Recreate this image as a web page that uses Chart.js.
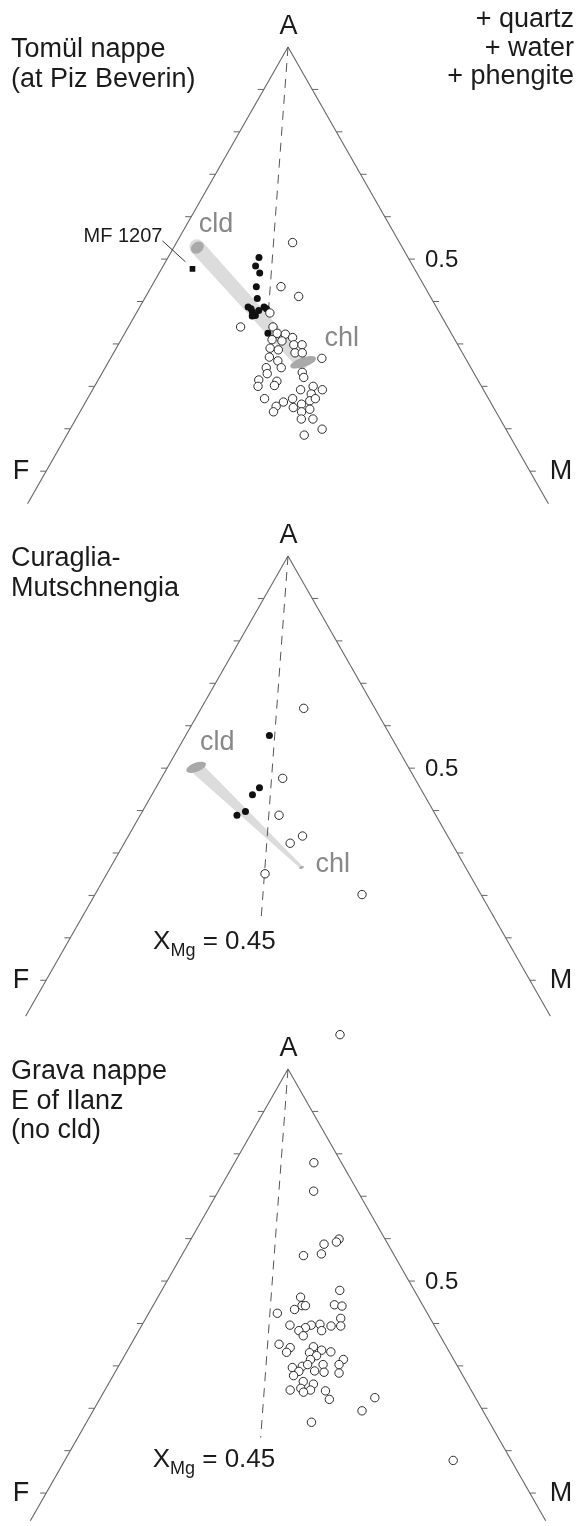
<!DOCTYPE html>
<html>
<head>
<meta charset="utf-8">
<title>AFM projections</title>
<script src="https://cdn.jsdelivr.net/npm/chart.js@4.4.1/dist/chart.umd.min.js"></script>
<style>
    html, body { margin: 0; padding: 0; background: #ffffff; overflow: hidden; }
    canvas { position: absolute; left: 0; display: block; }
</style>
</head>
<body>
<canvas id="TomulChart" width="577" height="509" style="top:0px"></canvas>
<canvas id="CuragliaChart" width="577" height="513" style="top:509px"></canvas>
<canvas id="GravaChart" width="577" height="504" style="top:1022px"></canvas>
<script>
// AFM values: A and M fractions (F = 1 - A - M)
var TomulOpenA = [0.539, 0.435, 0.412, 0.340, 0.373, 0.340, 0.325, 0.323, 0.315, 0.310, 0.307, 0.298, 0.298, 0.290, 0.286, 0.279, 0.279, 0.269, 0.260, 0.266, 0.244, 0.244, 0.233, 0.221, 0.230, 0.215, 0.212, 0.200, 0.202, 0.192, 0.200, 0.192, 0.182, 0.171, 0.163, 0.171, 0.153, 0.158, 0.166, 0.171, 0.140, 0.150, 0.140, 0.146, 0.123, 0.123, 0.099, 0.085]
var TomulOpenM = [0.240, 0.268, 0.316, 0.232, 0.276, 0.299, 0.315, 0.333, 0.352, 0.312, 0.334, 0.363, 0.380, 0.318, 0.337, 0.375, 0.390, 0.327, 0.349, 0.437, 0.364, 0.333, 0.413, 0.422, 0.342, 0.332, 0.371, 0.338, 0.371, 0.430, 0.452, 0.475, 0.457, 0.366, 0.409, 0.424, 0.399, 0.449, 0.462, 0.471, 0.400, 0.436, 0.458, 0.472, 0.466, 0.490, 0.521, 0.491]
var TomulFilledA = [0.504, 0.484, 0.467, 0.435, 0.407, 0.387, 0.375, 0.367, 0.379, 0.387, 0.383, 0.383, 0.366, 0.325]
var TomulFilledM = [0.188, 0.191, 0.208, 0.217, 0.233, 0.224, 0.239, 0.249, 0.250, 0.257, 0.264, 0.232, 0.243, 0.296]
var TomulSquareA = [0.477]
var TomulSquareM = [0.064]
var TomulBandA = [0.529, 0.256] // cld end, chl end
var TomulBandM = [0.047, 0.400]
var TomulLineA = [1, 0.38]

var CuragliaOpenA = [0.641, 0.476, 0.389, 0.340, 0.323, 0.251, 0.202]
var CuragliaOpenM = [0.212, 0.251, 0.287, 0.360, 0.343, 0.327, 0.552]
var CuragliaFilledA = [0.577, 0.454, 0.437, 0.398, 0.389]
var CuragliaFilledM = [0.173, 0.214, 0.208, 0.213, 0.200]
var CuragliaBandA = [0.502, 0.266]
var CuragliaBandM = [0.059, 0.395]
var CuragliaLineA = [1, 0.144]

var GravaOpenA = [1.081, 0.779, 0.712, 0.599, 0.592, 0.587, 0.564, 0.560, 0.478, 0.462, 0.442, 0.442, 0.433, 0.444, 0.441, 0.424, 0.412, 0.396, 0.396, 0.398, 0.394, 0.394, 0.390, 0.383, 0.383, 0.371, 0.351, 0.343, 0.332, 0.345, 0.337, 0.333, 0.331, 0.324, 0.315, 0.315, 0.303, 0.296, 0.299, 0.303, 0.303, 0.287, 0.288, 0.285, 0.283, 0.277, 0.263, 0.257, 0.243, 0.247, 0.243, 0.238, 0.241, 0.221, 0.225, 0.194, 0.167, 0.077]
var GravaOpenM = [0.067, 0.164, 0.197, 0.306, 0.304, 0.281, 0.287, 0.252, 0.368, 0.295, 0.308, 0.315, 0.297, 0.374, 0.391, 0.266, 0.403, 0.306, 0.350, 0.367, 0.392, 0.412, 0.341, 0.331, 0.378, 0.346, 0.306, 0.333, 0.331, 0.380, 0.401, 0.422, 0.379, 0.397, 0.389, 0.457, 0.454, 0.361, 0.380, 0.389, 0.421, 0.379, 0.411, 0.432, 0.464, 0.373, 0.400, 0.424, 0.383, 0.403, 0.425, 0.413, 0.457, 0.475, 0.567, 0.556, 0.465, 0.803]
var GravaLineA = [1, 0.131]

var XMgLine = 0.435
var ATicks = [0, 0.1, 0.2, 0.3, 0.4, 0.5, 0.6, 0.7, 0.8, 0.9]
var ATickLabel = 0.5
var EdgeBottomA = -0.085

// pixel frame of the triangle inside every panel
var FrameLeft = 41.7, FrameSide = 492.6, FrameBase = 475.7, FrameHeight = 433
var TextFont = '"Liberation Sans", Arial, Helvetica, sans-serif'
var TextColor = '#1b1b1b'
var EdgeColor = '#666666'

var PanelInfo = {
    TomulChart: {
        title: ['Tomül nappe', '(at Piz Beverin)'],
        notes: ['+ quartz', '+ water', '+ phengite'],
        openA: TomulOpenA, openM: TomulOpenM,
        filledA: TomulFilledA, filledM: TomulFilledM,
        squareA: TomulSquareA, squareM: TomulSquareM, squareLabel: 'MF 1207',
        bandA: TomulBandA, bandM: TomulBandM,
        band: { w0: 15, w1: 13, round: true, cap0: [0.5, 0.8, 7, 5.5, -0.7], cap1: [1.6, -0.3, 13.5, 4.8, -0.33], cld: [2, -15], chl: [23, -17] },
        lineA: TomulLineA,
        xmgLabel: null
    },
    CuragliaChart: {
        title: ['Curaglia-', 'Mutschnengia'],
        notes: [],
        openA: CuragliaOpenA, openM: CuragliaOpenM,
        filledA: CuragliaFilledA, filledM: CuragliaFilledM,
        bandA: CuragliaBandA, bandM: CuragliaBandM,
        band: { w0: 13, w1: 3, round: false, cap0: [0, 0, 10.5, 4.5, -0.37], cap1: [0, 0, 2.5, 1.3, -0.3], cld: [4, -17], chl: [14, 4.5] },
        lineA: CuragliaLineA,
        xmgLabel: [-108, 30]
    },
    GravaChart: {
        title: ['Grava nappe', 'E of Ilanz', '(no cld)'],
        notes: [],
        openA: GravaOpenA, openM: GravaOpenM,
        lineA: GravaLineA,
        xmgLabel: [-108, 29]
    }
}

function toPoints(aList, mList) {
    var pts = []
    for (var i = 0; i < aList.length; i++)
        pts.push({ x: mList[i] + aList[i] / 2, y: aList[i] })
    return pts
}

function pix(chart, a, m) {
    return { x: chart.scales.x.getPixelForValue(m + a / 2), y: chart.scales.y.getPixelForValue(a) }
}

function drawBand(ctx, b0, b1, st) {
    var dx = b1.x - b0.x, dy = b1.y - b0.y
    var len = Math.sqrt(dx * dx + dy * dy)
    var nx = -dy / len, ny = dx / len
    ctx.save()
    ctx.fillStyle = '#dcdcdc'
    ctx.beginPath()
    ctx.moveTo(b0.x + nx * st.w0 / 2, b0.y + ny * st.w0 / 2)
    ctx.lineTo(b1.x + nx * st.w1 / 2, b1.y + ny * st.w1 / 2)
    ctx.lineTo(b1.x - nx * st.w1 / 2, b1.y - ny * st.w1 / 2)
    ctx.lineTo(b0.x - nx * st.w0 / 2, b0.y - ny * st.w0 / 2)
    ctx.closePath()
    ctx.fill()
    if (st.round) {
        ctx.beginPath(); ctx.arc(b0.x, b0.y, st.w0 / 2, 0, 2 * Math.PI); ctx.fill()
        ctx.beginPath(); ctx.arc(b1.x, b1.y, st.w1 / 2, 0, 2 * Math.PI); ctx.fill()
    }
    ctx.fillStyle = '#a9a9a9'
    var c = st.cap0
    ctx.beginPath(); ctx.ellipse(b0.x + c[0], b0.y + c[1], c[2], c[3], c[4], 0, 2 * Math.PI); ctx.fill()
    c = st.cap1
    ctx.beginPath(); ctx.ellipse(b1.x + c[0], b1.y + c[1], c[2], c[3], c[4], 0, 2 * Math.PI); ctx.fill()
    ctx.restore()
}

var ternaryDecor = {
    id: 'ternaryDecor',
    beforeDatasetsDraw: function (chart) {
        var p = PanelInfo[chart.canvas.id]
        if (!p.bandA) return
        drawBand(chart.ctx, pix(chart, p.bandA[0], p.bandM[0]), pix(chart, p.bandA[1], p.bandM[1]), p.band)
    },
    afterDatasetsDraw: function (chart) {
        var p = PanelInfo[chart.canvas.id]
        var ctx = chart.ctx
        ctx.save()

        // ticks every 0.1 A on both sides
        ctx.strokeStyle = EdgeColor
        ctx.lineWidth = 1
        ctx.beginPath()
        for (var i = 0; i < ATicks.length; i++) {
            var l = pix(chart, ATicks[i], 0), r = pix(chart, ATicks[i], 1 - ATicks[i])
            ctx.moveTo(l.x - 6, l.y); ctx.lineTo(l.x, l.y)
            ctx.moveTo(r.x, r.y); ctx.lineTo(r.x + 6, r.y)
        }
        ctx.stroke()

        ctx.fillStyle = TextColor
        ctx.textBaseline = 'alphabetic'
        ctx.font = '27px ' + TextFont

        var apex = pix(chart, 1, 0), fv = pix(chart, 0, 0), mv = pix(chart, 0, 1)
        ctx.textAlign = 'center'
        ctx.fillText('A', apex.x + 0.5, apex.y - 13)
        ctx.textAlign = 'right'
        ctx.fillText('F', fv.x - 17, fv.y + 8)
        ctx.textAlign = 'left'
        ctx.fillText('M', mv.x + 20, mv.y + 8)

        for (i = 0; i < p.title.length; i++)
            ctx.fillText(p.title[i], 11, 57 + i * 29.5)
        ctx.textAlign = 'right'
        for (i = 0; i < p.notes.length; i++)
            ctx.fillText(p.notes[i], 574, 27 + i * 28.5)

        ctx.textAlign = 'left'
        ctx.font = '24px ' + TextFont
        var t5 = pix(chart, ATickLabel, 1 - ATickLabel)
        ctx.fillText(ATickLabel.toString(), t5.x + 16, t5.y + 8)

        if (p.bandA) {
            ctx.fillStyle = '#888888'
            ctx.font = '27px ' + TextFont
            var c0 = pix(chart, p.bandA[0], p.bandM[0]), c1 = pix(chart, p.bandA[1], p.bandM[1])
            ctx.fillText('cld', c0.x + p.band.cld[0], c0.y + p.band.cld[1])
            ctx.fillText('chl', c1.x + p.band.chl[0], c1.y + p.band.chl[1])
            ctx.fillStyle = TextColor
        }

        if (p.squareA) {
            var s = pix(chart, p.squareA[0], p.squareM[0])
            ctx.strokeStyle = '#333333'
            ctx.beginPath()
            ctx.moveTo(s.x - 30, s.y - 28); ctx.lineTo(s.x - 7, s.y - 7)
            ctx.stroke()
            ctx.font = '20px ' + TextFont
            ctx.textAlign = 'right'
            ctx.fillText(p.squareLabel, s.x - 30, s.y - 27)
        }

        if (p.xmgLabel) {
            var endA = p.lineA[p.lineA.length - 1]
            var e = pix(chart, endA, XMgLine * (1 - endA))
            var x = e.x + p.xmgLabel[0], y = e.y + p.xmgLabel[1]
            ctx.textAlign = 'left'
            ctx.font = '26px ' + TextFont
            ctx.fillText('X', x, y)
            var w = ctx.measureText('X').width
            ctx.font = '18px ' + TextFont
            ctx.fillText('Mg', x + w, y + 7)
            var w2 = ctx.measureText('Mg').width
            ctx.font = '26px ' + TextFont
            ctx.fillText(' = 0.45', x + w + w2, y)
        }
        ctx.restore()
    }
}

function panelDatasets(p) {
    var lineM = p.lineA.map(function (a) { return XMgLine * (1 - a) })
    var sets = [
        { label: 'F side', data: toPoints([1, EdgeBottomA], [0, 0]), showLine: true, borderColor: EdgeColor, borderWidth: 1.1, pointRadius: 0, order: 10 },
        { label: 'M side', data: toPoints([1, EdgeBottomA], [0, 1 - EdgeBottomA]), showLine: true, borderColor: EdgeColor, borderWidth: 1.1, pointRadius: 0, order: 10 },
        { label: 'XMg 0.45', data: toPoints(p.lineA, lineM), showLine: true, borderColor: '#555555', borderWidth: 1, borderDash: [9, 7], pointRadius: 0, order: 9 },
        { label: 'chl-bearing', data: toPoints(p.openA, p.openM), pointRadius: 4.2, backgroundColor: '#ffffff', borderColor: '#2a2a2a', borderWidth: 1, order: 2 }
    ]
    if (p.filledA)
        sets.push({ label: 'cld + chl', data: toPoints(p.filledA, p.filledM), pointRadius: 3.5, backgroundColor: '#111111', borderColor: '#111111', borderWidth: 0, order: 3 })
    if (p.squareA)
        sets.push({ label: p.squareLabel, data: toPoints(p.squareA, p.squareM), pointStyle: 'rect', pointRadius: 4, backgroundColor: '#111111', borderColor: '#111111', borderWidth: 0, order: 1 })
    return sets
}

function makeChart(id) {
    var canvas = document.getElementById(id)
    var h = canvas.height
    var config = {
        type: 'scatter',
        data: { datasets: panelDatasets(PanelInfo[id]) },
        options: {
            responsive: false,
            animation: false,
            events: [],
            layout: { padding: 0 },
            plugins: {
                legend: { display: false },
                tooltip: { enabled: false },
                title: { display: false }
            },
            scales: {
                x: { type: 'linear', display: false, min: -FrameLeft / FrameSide, max: (577 - FrameLeft) / FrameSide },
                y: { type: 'linear', display: false, min: (FrameBase - h) / FrameHeight, max: FrameBase / FrameHeight }
            }
        },
        plugins: [ternaryDecor]
    }
    new Chart(canvas.getContext('2d'), config)
}

makeChart('TomulChart')
makeChart('CuragliaChart')
makeChart('GravaChart')
</script>
</body>
</html>
